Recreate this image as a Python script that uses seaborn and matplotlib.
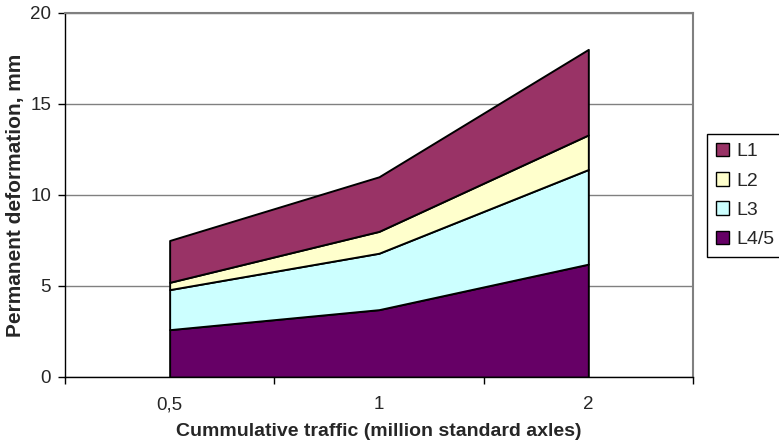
import numpy as np
import matplotlib
matplotlib.use('Agg')
import matplotlib.pyplot as plt
from matplotlib.patches import Patch
import seaborn as sns

sns.set_style('ticks')
plt.rcParams['font.family'] = ['Liberation Sans', 'DejaVu Sans']

# cumulative traffic categories and layer contributions (mm)
traffic = ['0,5', '1', '2']
layers = ['L1', 'L2', 'L3', 'L4/5']
l45 = [2.6, 3.7, 6.2]
l3 = [2.2, 3.1, 5.2]
l2 = [0.4, 1.2, 1.9]
l1 = [2.3, 3.0, 4.7]
colors = {'L1': '#993366', 'L2': '#FFFFCC', 'L3': '#CCFFFF', 'L4/5': '#660066'}

fig = plt.figure(figsize=(7.79, 4.43), dpi=100)
ax = fig.add_axes([0.0834, 0.149, 0.8062, 0.8217])

x = np.arange(len(traffic))
ax.stackplot(x, l45, l3, l2, l1,
             colors=[colors['L4/5'], colors['L3'], colors['L2'], colors['L1']],
             edgecolor='black', linewidth=1.4, zorder=3)

ax.set_xlim(-0.5, len(traffic) - 0.5)
ax.set_ylim(0, 20)
ax.set_yticks([0, 5, 10, 15, 20])
ax.yaxis.grid(True, color='#808080', linewidth=1.0, zorder=0)
ax.set_axisbelow(True)

# category boundary ticks, labels in the middle
ax.set_xticks(np.arange(-0.5, len(traffic)), minor=False)
ax.set_xticklabels([])
ax.set_xticks(x, minor=True)
ax.set_xticklabels(traffic, minor=True)
ax.tick_params(axis='x', which='major', direction='out', length=5, width=1, color='black')
ax.tick_params(axis='x', which='minor', length=0, pad=14, labelsize=13.5)
ax.tick_params(axis='y', direction='out', length=5, width=1, color='black', labelsize=13.5, pad=5)

for side in ['left', 'bottom']:
    ax.spines[side].set_color('black')
    ax.spines[side].set_linewidth(1.0)
for side in ['top', 'right']:
    ax.spines[side].set_visible(True)
    ax.spines[side].set_color('#808080')
    ax.spines[side].set_linewidth(1.5)

ax.set_xlabel('Cummulative traffic (million standard axles)', fontsize=14,
              fontweight='bold', labelpad=7)
ax.set_ylabel('Permanent deformation, mm', fontsize=15, fontweight='bold', labelpad=4)

handles = [Patch(facecolor=colors[k], edgecolor='black', linewidth=1.0) for k in layers]
leg = fig.legend(handles, layers, loc='upper left', bbox_to_anchor=(0.9076, 0.6975),
                 borderaxespad=0, fancybox=False, framealpha=1, edgecolor='black',
                 fontsize=14, handlelength=0.7, handleheight=0.7, handletextpad=0.35,
                 labelspacing=0.6, borderpad=0.45)
leg.get_frame().set_linewidth(1.0)

fig.savefig('out.png', dpi=100)
